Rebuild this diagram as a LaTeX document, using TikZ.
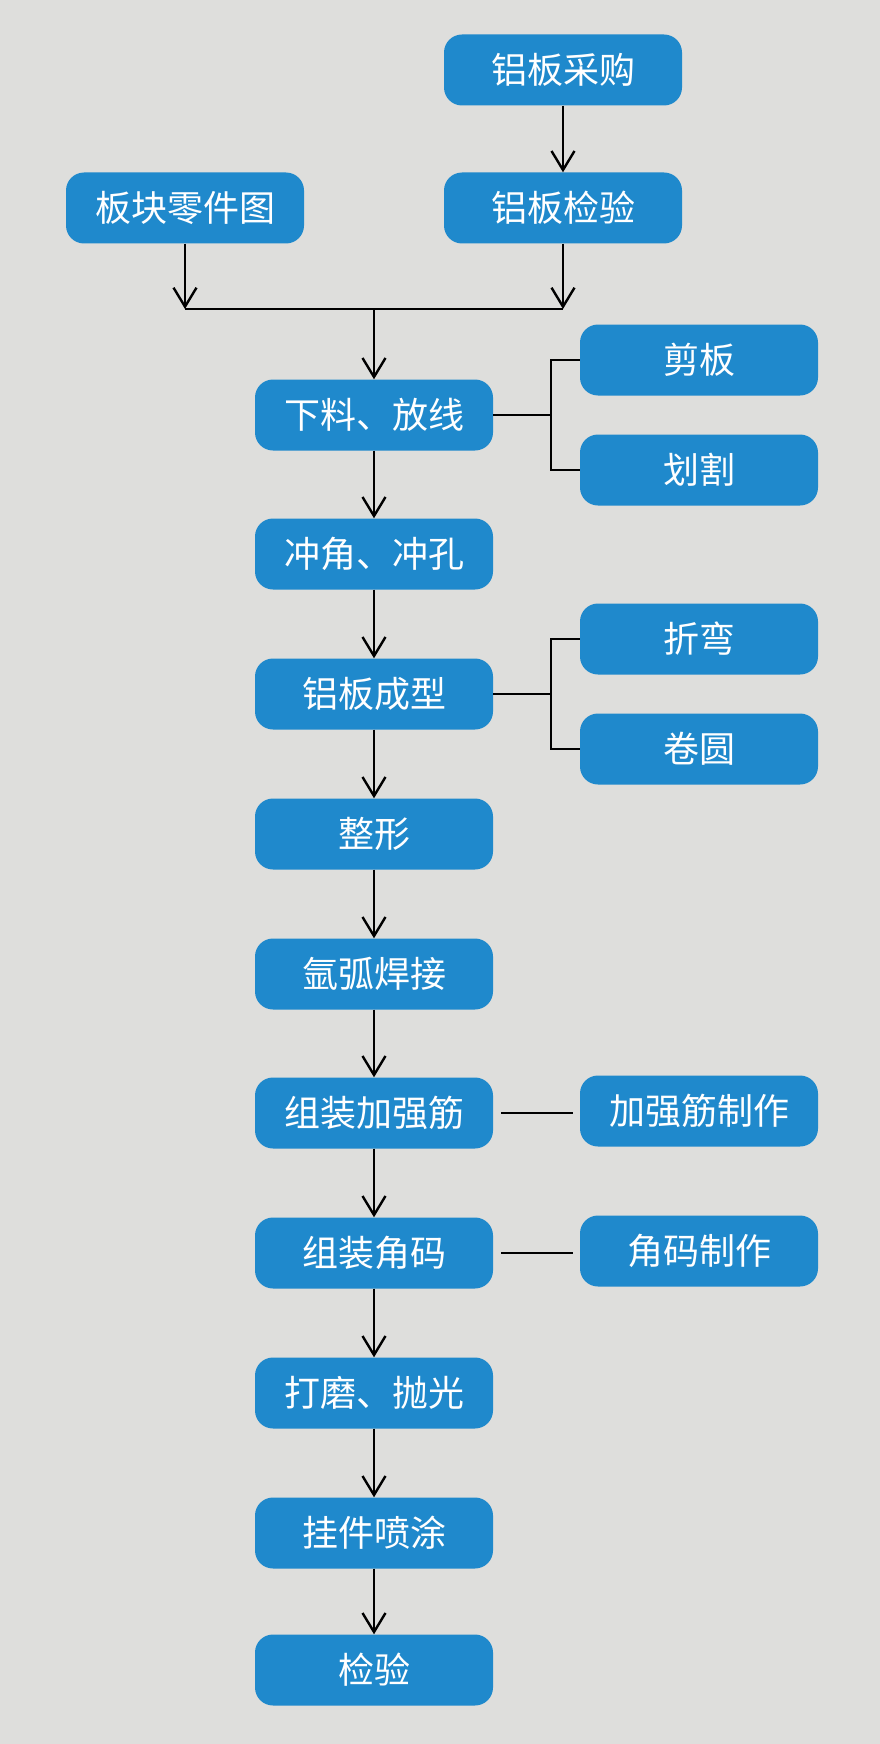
\documentclass[tikz,border=0pt]{standalone}
\usepackage{fontspec}
\newfontfamily\cjk{Noto Sans CJK SC}
\usetikzlibrary{arrows.meta}
\definecolor{bggray}{HTML}{DEDEDC}
\definecolor{boxblue}{HTML}{1F89CC}

\begin{document}
\begin{tikzpicture}[x=1pt, y=-1pt,
	stepbox/.style = {fill=boxblue, rounded corners=18pt, minimum width=238pt,
		minimum height=71pt, inner sep=0pt, text=white,
		font=\cjk\fontsize{36}{36}\selectfont},
	link/.style = {line width=2.4pt, black},
	flow/.style = {link, -{Straight Barb[length=19pt, width=23pt]}}]
	\fill[bggray] (0,0) rectangle (880,1744);
	\useasboundingbox (0,0) rectangle (880,1744);

	% Nodes
	\node[stepbox] (buy) at (563,70) {铝板采购};
	\node[stepbox] (drawing) at (185,208) {板块零件图};
	\node[stepbox] (check) at (563,208) {铝板检验};
	\coordinate (j) at (374,309);
	\node[stepbox] (cut) at (374,415) {下料、放线};
	\node[stepbox] (shear) at (699,360) {剪板};
	\node[stepbox] (scribe) at (699,470) {划割};
	\node[stepbox] (punch) at (374,554) {冲角、冲孔};
	\node[stepbox] (form) at (374,694) {铝板成型};
	\node[stepbox] (bend) at (699,639) {折弯};
	\node[stepbox] (roll) at (699,749) {卷圆};
	\node[stepbox] (shape) at (374,834) {整形};
	\node[stepbox] (weld) at (374,974) {氩弧焊接};
	\node[stepbox] (rib) at (374,1113) {组装加强筋};
	\node[stepbox] (ribmake) at (699,1111) {加强筋制作};
	\node[stepbox] (corner) at (374,1253) {组装角码};
	\node[stepbox] (cornermake) at (699,1251) {角码制作};
	\node[stepbox] (polish) at (374,1393) {打磨、抛光};
	\node[stepbox] (spray) at (374,1533) {挂件喷涂};
	\node[stepbox] (final) at (374,1670) {检验};

	% Arrows
	\draw[flow] (buy) -- (check);
	\draw[flow] (drawing.south) -- (drawing.south |- j);
	\draw[flow] (check.south) -- (check.south |- j);
	\draw[link] (drawing.south |- j) -- (check.south |- j);
	\draw[flow] (j) -- (cut);
	\draw[flow] (cut) -- (punch);
	\draw[flow] (punch) -- (form);
	\draw[flow] (form) -- (shape);
	\draw[flow] (shape) -- (weld);
	\draw[flow] (weld) -- (rib);
	\draw[flow] (rib) -- (corner);
	\draw[flow] (corner) -- (polish);
	\draw[flow] (polish) -- (spray);
	\draw[flow] (spray) -- (final);

	% Branches
	\draw[link] (cut.east) -- ++(58,0) |- (shear.west);
	\draw[link] (cut.east) ++(58,0) |- (scribe.west);
	\draw[link] (form.east) -- ++(58,0) |- (bend.west);
	\draw[link] (form.east) ++(58,0) |- (roll.west);
	\draw[link, shorten <=8pt, shorten >=7pt] (rib.east) -- (rib.east -| ribmake.west);
	\draw[link, shorten <=8pt, shorten >=7pt] (corner.east) -- (corner.east -| cornermake.west);
\end{tikzpicture}
\end{document}
